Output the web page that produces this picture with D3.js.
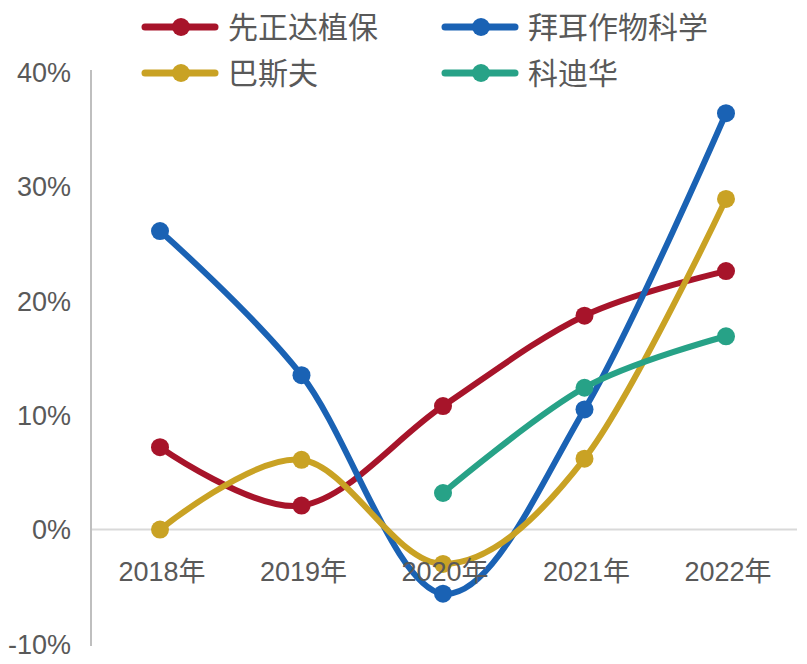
<!DOCTYPE html>
<html>
<head>
<meta charset="utf-8">
<script src="https://cdn.jsdelivr.net/npm/d3@7"></script>
<style>
  body { margin: 0; background: #fff; }
  text { font-family: "Liberation Sans", Arial, "Noto Sans CJK SC", sans-serif; }
  .cjk { font-family: "Noto Sans CJK SC", sans-serif; }
</style>
</head>
<body>
<script>
// 年份
const years = ['2018年', '2019年', '2020年', '2021年', '2022年'];
// 增长率 (%)
const syngenta = [7.2, 2.1, 10.8, 18.7, 22.6];
const bayer = [26.1, 13.5, -5.6, 10.5, 36.4];
const basf = [0.0, 6.1, -3.0, 6.2, 28.9];
const corteva = [null, null, 3.2, 12.4, 16.9];
const yTicks = [-10, 0, 10, 20, 30, 40];

const series = [
  { name: '先正达植保', color: '#A7142A', values: syngenta },
  { name: '拜耳作物科学', color: '#1A62B4', values: bayer },
  { name: '巴斯夫', color: '#C9A224', values: basf },
  { name: '科迪华', color: '#27A287', values: corteva }
];

const W = 807, H = 664;
const svg = d3.select('body').append('svg').attr('width', W).attr('height', H);

const x = d3.scalePoint().domain(years).range([160, 726]);
const y = d3.scaleLinear().domain([-10, 40]).range([644, 72]);

// 0% 基线
svg.append('line')
  .attr('x1', 91).attr('x2', 797)
  .attr('y1', y(0)).attr('y2', y(0))
  .style('stroke', '#d9d9d9').style('stroke-width', 2);

// y 轴
svg.append('line')
  .attr('x1', 91).attr('x2', 91)
  .attr('y1', 70).attr('y2', 646)
  .style('stroke', '#bfbfbf').style('stroke-width', 2);

svg.selectAll('.ytick').data(yTicks).enter().append('text')
  .attr('x', 71).attr('y', d => y(d))
  .attr('dy', '0.36em')
  .attr('text-anchor', 'end')
  .style('font-size', '27px').style('fill', '#595959')
  .text(d => d + '%');

// 系列
const lineGen = d3.line()
  .defined(d => d.v !== null)
  .x(d => x(d.year))
  .y(d => y(d.v))
  .curve(d3.curveCatmullRom.alpha(0));

series.forEach(s => {
  const pts = years.map((yr, i) => ({ year: yr, v: s.values[i] }));
  svg.append('path')
    .attr('d', lineGen(pts))
    .style('fill', 'none')
    .style('stroke', s.color)
    .style('stroke-width', 6)
    .style('stroke-linecap', 'round');
  svg.selectAll(null).data(pts.filter(d => d.v !== null)).enter().append('circle')
    .attr('cx', d => x(d.year)).attr('cy', d => y(d.v))
    .attr('r', 9)
    .style('fill', s.color);
});

// x 轴标签 (画在线上面)
svg.selectAll('.xtick').data(years).enter().append('text')
  .attr('x', d => x(d) + 2).attr('y', 581)
  .attr('text-anchor', 'middle')
  .style('font-size', '27px').style('fill', '#595959')
  .text(d => d);

// 图例
const legendPos = [[145, 27], [445, 27], [145, 73], [445, 73]];
series.forEach((s, i) => {
  const [lx, ly] = legendPos[i];
  const g = svg.append('g').attr('transform', `translate(${lx},${ly})`);
  g.append('line')
    .attr('x1', 0).attr('x2', 70)
    .style('stroke', s.color).style('stroke-width', 7)
    .style('stroke-linecap', 'round');
  g.append('circle').attr('cx', 36).attr('r', 9).style('fill', s.color);
  g.append('text')
    .attr('class', 'cjk')
    .attr('x', 83).attr('dy', '0.36em')
    .style('font-size', '30px').style('fill', '#595959')
    .text(s.name);
});
</script>
</body>
</html>
